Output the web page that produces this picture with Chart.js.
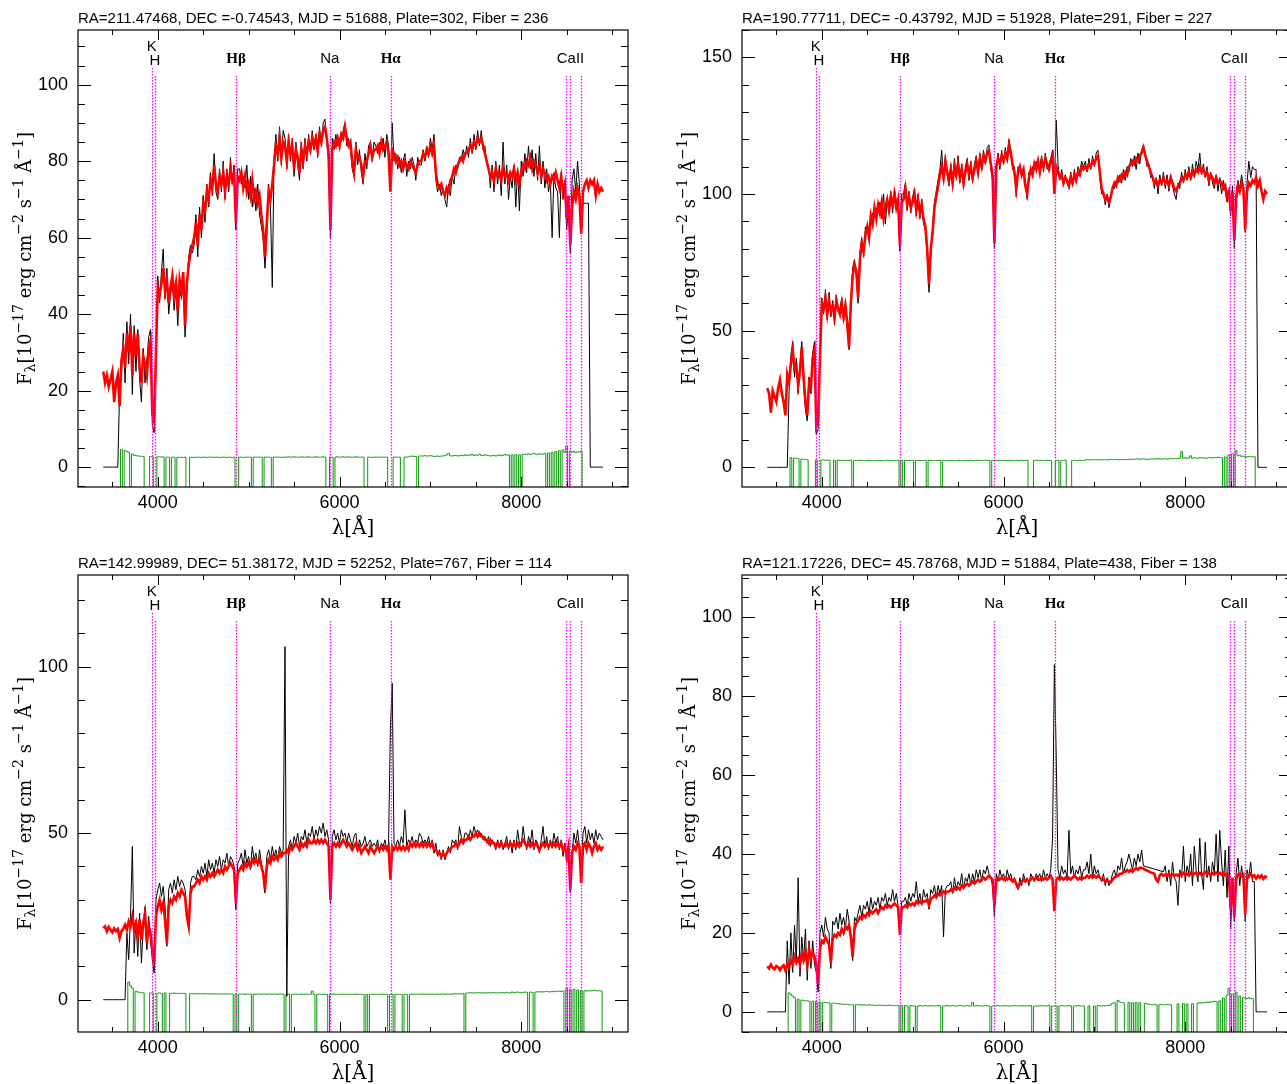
<!DOCTYPE html>
<html><head><meta charset="utf-8">
<script src="https://cdn.jsdelivr.net/npm/chart.js@4.4.1/dist/chart.umd.min.js"></script>
<style>
html,body{margin:0;padding:0;background:#fff;overflow:hidden;width:1287px;height:1084px;position:relative}
.panel{position:absolute;width:640px;height:545px}
#warn{position:absolute;left:300px;top:520px;color:red;font:14px sans-serif}
</style></head><body>
<div class="panel" style="left:0;top:0"><canvas id="c0" width="640" height="545"></canvas></div>
<div class="panel" style="left:664px;top:0"><canvas id="c1" width="640" height="545"></canvas></div>
<div class="panel" style="left:0;top:545px"><canvas id="c2" width="640" height="545"></canvas></div>
<div class="panel" style="left:664px;top:545px"><canvas id="c3" width="640" height="545"></canvas></div>
<div id="warn"></div>
<script>
// ---------- wavelength grid (Angstrom) ----------
const wave = [
3400,3420,3440,3460,3480,3500,3520,3540,3560,3580,3600,3620,3640,3660,3680,3700,3720,3740,3760,3780,3800,3820,3840,3860,3880,
3900,3920,3940,3960,3980,4000,4020,4040,4060,4080,4100,4120,4140,4160,4180,4200,4220,4240,4260,4280,4300,4320,4340,4360,4380,
4400,4420,4440,4460,4480,4500,4520,4540,4560,4580,4600,4620,4640,4660,4680,4700,4720,4740,4760,4780,4800,4820,4840,4860,4880,
4900,4920,4940,4960,4980,5000,5020,5040,5060,5080,5100,5120,5140,5160,5180,5200,5220,5240,5260,5280,5300,5320,5340,5360,5380,
5400,5420,5440,5460,5480,5500,5520,5540,5560,5580,5600,5620,5640,5660,5680,5700,5720,5740,5760,5780,5800,5820,5840,5860,5880,
5900,5920,5940,5960,5980,6000,6020,6040,6060,6080,6100,6120,6140,6160,6180,6200,6220,6240,6260,6280,6300,6320,6340,6360,6380,
6400,6420,6440,6460,6480,6500,6520,6540,6560,6580,6600,6620,6640,6660,6680,6700,6720,6740,6760,6780,6800,6820,6840,6860,6880,
6900,6920,6940,6960,6980,7000,7020,7040,7060,7080,7100,7120,7140,7160,7180,7200,7220,7240,7260,7280,7300,7320,7340,7360,7380,
7400,7420,7440,7460,7480,7500,7520,7540,7560,7580,7600,7620,7640,7660,7680,7700,7720,7740,7760,7780,7800,7820,7840,7860,7880,
7900,7920,7940,7960,7980,8000,8020,8040,8060,8080,8100,8120,8140,8160,8180,8200,8220,8240,8260,8280,8300,8320,8340,8360,8380,
8400,8420,8440,8460,8480,8500,8520,8540,8560,8580,8600,8620,8640,8660,8680,8700,8720,8740,8760,8780,8800,8820,8840,8860,8880,
8900];
const n = null;

// ---------- panel 1 (top-left) ----------
const p1Model = [
25,22,24,21,23, 25,17,22,24,16, 28,31,26,35,30, 37,24,35,29,35, 26,22,29,27,24,
31,33,14,12,30, 47,45,48,52,46, 49,43,47,50,45, 48,41,49,46,51, 37,48,53,56,58,
60,64,58,66,62, 69,67,72,70,75, 73,79,74,72,76, 74,77,72,76,74, 78,75,77,64,76,
75,77,73,76,72, 74,71,75,70,72, 69,71,66,62,55, 64,72,70,74,79, 84,82,86,81,85,
84,80,85,82,84, 78,83,81,77,83, 80,84,82,85,83, 86,84,86,83,87, 85,88,89,86,82,
62,83,85,84,86, 84,87,86,89,86, 84,85,80,77,83, 81,81,79,76,80, 80,82,84,81,83,
83,84,82,85,83, 84,85,82,72,83, 82,80,81,79,80, 78,80,79,78,80, 79,78,77,79,80,
80,82,81,83,82, 84,82,84,77,74, 73,74,72,71,73, 72,75,76,78,77, 79,80,81,80,82,
82,83,84,83,85, 84,86,85,86,84, 82,80,78,76,77, 75,78,76,77,75, 78,76,77,75,77,
76,78,75,77,74, 77,79,78,80,79, 81,78,80,79,77, 79,76,78,77,75, 76,74,76,75,77,
75,73,76,72,74, 65,71,58,68,72, 70,73,71,61,72, 74,75,73,75,74, 75,71,74,72,73,
72];
const p1Flux = [
0,0,0,0,0, 0,0,0,0,20, 24,35,22,38,27, 40,19,37,25,36, 23,17,31,22,28,
34,36,11,9,26, 50,43,51,57,44, 52,40,45,48,41, 47,37,47,44,50, 34,46,55,58,56,
58,66,55,68,60, 71,64,74,68,77, 71,82,72,70,78, 72,80,70,78,72, 81,74,79,62,78,
78,74,76,73,79, 70,76,68,73,67, 74,66,63,60,52, 61,74,68,47,81, 87,80,89,79,88,
86,78,87,80,86, 76,85,79,75,85, 78,86,80,87,82, 88,83,87,81,89, 84,90,91,85,80,
60,86,83,87,84, 86,85,88,90,84, 86,83,78,76,85, 79,83,77,74,82, 78,84,85,80,85,
84,82,85,83,86, 81,87,84,74,90, 80,82,78,81,77, 80,82,76,80,78, 81,79,75,81,79,
79,83,80,84,81, 86,83,87,75,72, 74,71,73,70,68, 74,71,76,74,79, 78,81,80,83,81,
84,81,86,82,87, 83,88,84,88,83, 84,79,79,73,79, 72,80,74,79,71, 85,74,79,70,76,
73,79,68,78,67, 80,76,82,77,84, 78,83,76,82,75, 84,74,80,73,78, 72,75,60,77,73,
72,60,77,70,75, 62,68,56,75,78, 72,80,74,61,69, 69,69,69,0,0, 0,0,0,0,0,
0];
const p1Err = [
n,n,n,n,n, n,n,n,n,-20, 4.6,-20,4.3,4.1,3.9, -20,3.4,3.1,3.0,2.9, 2.9,2.8,2.8,-20,-20,
-20,2.8,2.7,-20,-20, 2.7,2.7,2.6,2.7,-20, 2.6,2.6,-20,2.6,2.6, -20,2.6,2.5,2.6,2.5, 2.6,-20,-20,2.6,2.5,
2.6,2.5,2.6,2.6,2.5, 2.6,2.6,2.5,2.6,2.6, 2.6,2.5,2.6,2.6,2.5, 2.6,2.6,2.6,2.5,2.6, 2.6,2.5,2.6,-20,-20,
2.6,2.6,2.5,2.6,2.6, 2.6,2.6,-20,2.6,2.6, 2.6,2.6,2.6,-20,2.6, 2.6,2.6,2.6,-20,2.6, 2.6,2.6,2.6,2.5,2.6,
2.6,2.6,2.7,2.6,2.6, 2.7,2.6,2.6,2.6,2.7, 2.6,2.6,2.6,2.7,2.6, 2.6,2.6,2.7,2.6,2.6, 2.6,2.7,2.6,-20,-20,
2.6,2.6,-20,2.6,2.7, 2.6,2.6,2.7,2.6,2.6, 2.7,2.6,2.6,2.6,2.7, 2.6,2.6,2.6,2.6,-20, -20,2.6,2.6,2.5,2.6,
2.6,2.6,2.6,2.6,2.6, 2.6,2.6,-20,-20,-20, 2.6,2.6,2.6,2.6,-20, -20,2.6,2.6,2.7,2.8, 2.9,2.8,2.8,-20,2.9,
2.9,2.9,3.0,2.9,2.9, 3.0,2.9,2.8,2.8,2.9, 2.8,2.9,2.9,3.0,3.2, 3.6,3.0,2.9,3.0,3.1, 2.9,3.0,3.1,3.0,3.2,
3.0,3.2,3.1,3.3,3.0, 3.2,3.1,3.4,3.1,3.0, 3.2,3.1,3.0,2.9,3.0, 3.1,2.9,3.0,3.2,3.0, 3.1,3.3,3.1,3.2,-20,
3.2,-20,3.3,-20,3.2, -20,3.3,3.4,3.3,3.5, 3.3,3.4,3.6,3.4,3.3, 3.5,3.4,3.4,3.6,-20, 3.7,-20,3.9,-20,4.1,
-20,4.3,-20,4.5,3.8, 5.5,-20,4.2,3.9,4.1, 3.8,4.0,3.9,4.2,-20, n,n,n,n,n, n,n,n,n,n,
n];

// ---------- panel 2 (top-right) ----------
const p2Model = [
29,27,20,28,26, 24,29,32,27,24, 19,34,31,38,43, 36,37,30,35,44, 33,24,19,31,29,
40,43,15,17,40, 60,58,62,56,61, 57,59,55,61,58, 56,60,55,59,53, 44,60,70,74,72,
62,76,82,79,85, 88,84,92,89,95, 91,96,93,97,91, 95,98,94,99,96, 100,95,98,81,97,
98,102,96,99,95, 97,100,94,98,93, 96,91,88,80,67, 80,86,95,99,103, 107,110,106,112,108,
105,109,104,110,107, 111,106,109,104,108, 111,107,110,106,109, 112,108,113,110,114, 112,115,116,111,107,
82,110,113,111,114, 112,115,113,118,115, 111,108,102,108,110, 107,109,103,100,106, 109,107,111,109,112,
108,112,110,113,111, 109,112,114,100,110, 108,106,107,104,106, 105,103,106,104,107, 105,108,107,110,109,
110,109,111,110,112, 111,113,114,108,102, 100,98,99,97,99, 102,104,103,106,105, 107,106,108,107,110,
111,112,111,113,112, 114,115,117,114,112, 110,108,106,104,105, 103,105,104,106,104, 105,103,106,104,102,
101,103,104,106,105, 107,106,108,106,108, 107,109,108,110,108, 109,107,108,105,107, 106,104,106,104,105,
104,102,103,99,101, 94,101,83,98,103, 101,104,102,87,101, 104,103,105,104,106, 103,105,101,98,101,
100];
const p2Flux = [
0,0,0,0,0, 0,0,0,0,0, 0,0,28,41,46, 33,40,27,37,46, 30,21,17,33,27,
42,46,12,14,42, 62,56,65,54,64, 55,61,52,63,57, 58,62,53,61,51, 43,58,73,76,70,
60,79,84,77,88, 86,87,90,93,92, 95,94,97,91,100, 89,98,95,101,93, 102,97,96,79,100,
100,104,94,101,93, 99,102,92,100,91, 98,89,87,78,64, 78,88,97,101,105, 109,116,104,114,107,
103,111,102,113,106, 114,104,111,102,110, 113,105,112,104,111, 114,107,115,109,116, 111,117,118,109,105,
80,108,115,109,116, 111,117,112,120,116, 109,110,99,110,108, 109,107,105,98,108, 107,110,109,112,110,
110,114,108,115,109, 111,113,116,103,127, 111,105,109,103,107, 104,102,108,103,109, 104,110,108,112,110,
112,108,113,109,114, 110,115,116,106,100, 101,96,100,95,98, 103,102,105,104,107, 104,109,105,110,108,
113,110,114,109,115, 111,116,118,115,110, 111,106,107,102,106, 100,107,103,108,102, 107,101,107,103,100,
98,104,102,108,104, 109,105,110,105,111, 106,112,109,115,107, 111,106,110,103,108, 104,102,107,101,106,
100,105,101,97,100, 92,103,80,100,105, 102,107,103,86,104, 112,106,110,109,109, 0,0,0,0,0,
0];
const p2Err = [
n,n,n,n,n, n,n,n,n,n, n,n,-20,3.6,-20, 3.4,3.3,3.2,-20,3.0, 2.9,2.9,2.8,-20,-20,
-20,-20,2.7,-20,-20, 2.7,2.7,2.6,2.6,2.6, -20,-20,2.6,-20,2.6, 2.5,2.6,2.5,2.6,2.5, 2.5,2.6,-20,2.5,2.5,
2.5,2.5,2.6,2.5,2.5, 2.5,2.6,2.5,2.5,2.5, 2.5,2.6,2.5,2.5,2.5, 2.5,2.6,2.5,2.5,2.5, 2.5,2.5,2.6,-20,2.5,
-20,2.5,2.5,2.5,2.5, 2.5,-20,2.5,2.5,2.5, 2.5,2.5,2.5,-20,2.5, 2.5,2.5,2.5,2.5,2.5, 2.5,-20,2.5,2.5,2.5,
2.5,2.5,2.6,2.5,2.5, 2.6,2.5,2.5,2.5,2.6, 2.5,2.5,2.6,2.5,2.5, 2.6,2.5,2.6,2.5,2.5, 2.6,2.5,2.5,-20,2.5,
2.5,2.6,2.5,2.5,2.6, 2.5,2.6,2.5,2.5,2.6, 2.5,2.5,2.6,2.5,2.5, 2.6,2.5,2.5,2.6,-20, -20,-20,2.5,2.6,2.5,
2.5,2.6,2.5,2.5,2.6, 2.5,2.5,-20,-20,2.5, 2.6,-20,2.5,2.5,2.6, -20,-20,-20,2.5,2.6, 2.5,2.5,2.6,2.5,2.5,
2.7,2.8,2.7,2.8,2.7, 2.8,2.8,2.7,2.8,2.7, 2.8,2.8,2.7,2.8,2.9, 2.8,2.8,2.9,2.8,2.8, 2.9,2.8,2.9,2.8,2.9,
2.9,3.0,2.9,3.0,3.1, 2.9,3.0,3.1,3.0,2.9, 3.0,3.1,3.0,3.1,3.0, 3.2,3.1,3.0,3.1,3.2, 3.0,3.1,3.2,3.1,3.2,
3.3,3.2,3.4,5.8,3.3, 3.5,3.3,3.4,4.2,3.3, 3.5,3.4,3.3,3.6,3.4, 3.5,3.3,3.4,3.6,3.5, 3.4,3.6,3.5,3.7,3.6,
3.5,-20,3.8,-20,4.5, -20,5.0,-20,6.1,4.2, 4.4,4.0,4.1,3.9,3.8, 4.0,3.9,3.8,3.9,-20, n,n,n,n,n,
n];

// ---------- panel 3 (bottom-left) ----------
const p3Model = [
21.5,22,20.5,21.8,21, 20.2,21.4,20.6,21.2,18.5, 20.5,21.3,22.5,21,23.5, 22,25,21,23,19, 24,18,23,26,17,
22,20,15,11,25, 28,30,27,29,24, 17,28,30,29,31, 30,32,31,33,32, 31,25,22,32,34,
34,35,36,35,37, 36,37,36,38,37, 38,37,38,39,38, 39,38,40,39,40, 41,40,39,29,38,
39,40,39,41,40, 41,40,42,41,42, 41,42,40,38,33, 40,42,41,43,42, 43,42,44,43,44,
44,45,44,46,45, 46,47,46,45,47, 46,47,46,48,47, 47,48,47,48,47, 48,47,48,47,46,
30,46,47,46,47, 46,47,48,47,46, 47,46,45,46,47, 45,46,44,45,46, 45,44,46,45,44,
45,46,45,46,45, 46,45,46,36,46, 45,46,45,46,45, 46,45,46,45,47, 46,47,46,47,46,
47,46,47,46,47, 46,47,45,45,44, 44,43,44,43,44, 45,45,46,46,47, 46,47,48,47,48,
48,49,48,49,49, 50,49,50,49,49, 48,48,47,48,47, 47,46,47,46,47, 46,46,47,46,47,
46,47,46,47,46, 47,48,47,46,47, 46,47,46,47,46, 45,46,47,46,47, 46,47,46,47,46,
47,46,47,45,46, 43,46,33,44,46, 45,47,46,35,46, 47,45,47,46,44, 46,47,45,46,45,
46];
const p3Flux = [
0,0,0,0,0, 0,0,0,0,0, 0,0,0,20,12, 25,46,14,24,13, 26,11,22,28,15,
25,18,12,8,30, 33,35,31,34,28, 16,33,35,32,36, 33,37,34,36,35, 33,27,21,35,37,
37,36,39,37,40, 38,41,37,42,39, 41,38,42,40,43, 39,42,41,44,40, 43,42,40,27,41,
42,44,40,45,41, 43,39,46,42,44, 40,45,41,37,32, 43,45,42,46,43, 45,42,46,44,45,
106,1,46,48,45, 49,47,50,46,49, 48,51,47,50,49, 52,48,51,49,52, 50,53,49,51,48,
29,49,51,48,50, 47,51,49,50,47, 50,48,46,49,50, 45,48,46,47,49, 46,47,48,46,47,
46,48,44,47,46, 48,45,47,81,95, 47,46,48,46,49, 47,57,46,48,47, 49,46,48,47,50,
49,47,48,47,49, 46,48,44,47,43, 45,42,45,42,44, 46,44,48,47,48, 45,52,49,47,50,
50,48,51,49,52, 50,51,49,50,48, 49,47,49,46,48, 47,45,48,46,48, 45,47,49,45,48,
44,48,45,51,47, 46,52,48,45,49, 47,51,45,48,47, 44,48,52,46,49, 45,48,46,50,47,
49,45,48,43,47, 41,45,32,44,50, 47,51,46,37,50, 52,47,51,48,50, 47,51,48,50,49,
48];
const p3Err = [
n,n,n,n,n, n,n,n,n,n, n,n,n,-20,5.3, 4.2,3.5,-20,2.5,2.3, 2.2,2.1,2.1,-20,-20,
-20,2.0,2.0,-20,-20, 2.0,2.0,1.9,-20,2.0, -20,-20,1.9,1.9,2.0, 1.9,1.9,1.9,1.8,1.9, 1.8,-20,-20,1.8,1.8,
1.8,1.8,1.7,1.8,1.8, 1.7,1.8,1.8,1.7,1.8, 1.7,1.8,1.7,1.7,1.8, 1.7,1.7,1.7,1.8,1.7, 1.7,1.7,-20,1.7,-20,
1.7,1.7,1.7,1.6,1.7, 1.7,1.7,-20,1.7,1.6, 1.7,1.7,1.6,1.7,1.7, 1.6,1.7,1.7,1.6,1.7, 1.7,1.6,1.7,1.7,1.6,
-20,1.6,1.7,-20,1.6, 1.6,1.7,1.6,1.6,1.7, 1.6,1.6,1.7,1.6,1.6, 2.6,1.6,-20,1.6,1.7, 1.6,1.6,1.7,1.6,-20,
1.6,1.6,1.7,1.6,1.6, 1.6,1.7,1.6,1.6,1.6, 1.7,1.6,1.6,1.6,1.7, 1.6,1.6,1.6,1.6,-20, 1.6,-20,1.6,1.6,1.6,
1.6,1.6,1.6,1.7,1.6, 1.6,1.6,-20,1.6,1.6, -20,1.6,1.6,1.6,1.6, -20,1.6,1.6,-20,1.6, 1.7,1.6,1.6,1.6,1.7,
1.6,1.7,1.6,1.6,1.7, 1.6,1.7,1.6,1.6,1.7, 1.6,1.7,1.7,1.6,1.7, 1.7,1.6,1.7,1.7,1.8, 1.7,1.8,1.7,1.8,-20,
2.0,2.0,2.1,2.0,2.0, 2.1,2.0,2.1,2.0,2.0, 2.1,2.0,2.1,2.0,2.1, 2.1,2.0,2.1,2.0,2.1, 2.1,2.0,2.2,2.1,2.0,
2.3,2.1,2.2,2.3,2.2, 2.1,2.2,2.3,2.2,-20, 2.3,2.2,-20,2.3,2.4, 2.3,2.4,2.3,2.4,2.5, 2.4,2.3,2.5,2.4,2.5,
2.5,2.6,2.5,2.6,-20, 3.5,-20,3.0,-20,3.1, -20,2.9,-20,2.8,-20, 2.7,2.6,2.7,2.6,2.7, 2.8,2.7,2.6,2.7,2.6,
-20];

// ---------- panel 4 (bottom-right) ----------
const p4Model = [
11.5,11,12,11.2,10.8, 11.6,11.3,10.6,11.4,11.8, 10.5,12,11.2,13,12, 14,12.5,13.5,12,14.5, 13,15,12,16,13.5,
15,14,12,7,16, 18,17.5,19,18,17, 12.5,18.5,19.5,19,20, 19.5,21,20,21.5,21, 22,19,14,21,22.5,
23,24,23.5,24.5,24, 25,24.5,25.5,25,25.5, 26,25,26,26.5,26, 27,26.5,27,26.5,27, 27.5,27,26.5,19.5,26.5,
26.5,27,26.5,27.5,27, 27.5,27,28,27.5,28, 27.5,28,28,28.5,27, 28.5,29,29.5,29,30, 29.5,30,30.5,30,30.5,
30.5,31,30.5,31.5,31, 31.5,31,32,31.5,32, 32.5,32,32.5,33,32.5, 33,33.5,33,33.5,34, 33.5,34,34.5,34,33.5,
27,33.5,34,33.5,34, 33.5,34,33.5,34,33.5, 33,33.5,32.5,31.5,32.5, 33,33.5,33,33.5,33, 33.5,34,33.5,34,33.5,
33.5,34,33.5,34,33.5, 34,34.5,33.5,25.5,33.5, 34,33.5,34,33.5,34, 33.5,34,33.5,34,34.5, 34,33.5,34,33.5,34,
34,34.5,34,34.5,34, 34.5,34,34.5,34,33.5, 33.5,33,33.5,33,32.8, 33.5,34,34.5,34.5,35, 35,35.5,35.5,36,35.5,
36,35.5,36,36.5,36, 36.5,36.5,36.3,36,35.8, 35.6,35.3,35.2,35,33.5, 33,34.6,35,34.5,34.8, 34.5,35,34.4,34.8,34.5,
34.8,34.5,35,34.6,35.2, 34.8,35,34.5,35.2,34.8, 35,35.3,34.8,35.2,34.6, 35,35.4,34.9,35.2,34.7, 35.1,34.8,35.3,34.9,35.2,
34.8,35.2,34.6,35,34.5, 26,34,24,33.5,34.8, 35,34.4,34.8,24.7,33.5, 34.5,35,34.2,34.6,33.8, 34.5,34,34.6,33.7,34.3,
34];
const p4Flux = [
0,0,0,0,0, 0,0,0,0,0, 0,18,7,20,10, 22,12,34,9,19, 13,21,8,18,11,
18,12,10,5,20, 22,19,24,21,20, 11,23,22,24,21, 25,22,24,21,26, 23,18,13,24,23,
25,27,24,27,26, 28,25,29,26,28, 27,29,26,29,28, 30,27,29,28,31, 28,30,27,20,28,
28,29,27,30,28, 30,29,33,28,30, 27,31,29,30,26, 31,30,32,29,32, 30,32,19,31,32,
32,33,30,34,31, 33,32,35,31,34, 33,35,32,35,33, 36,34,36,33,36, 35,37,35,34,32,
24,35,33,36,34, 35,33,36,34,35, 33,34,32,31,34, 32,35,33,34,32, 35,34,33,35,34,
35,33,36,34,35, 34,36,44,88,65, 36,34,37,35,36, 34,46,35,37,34, 36,35,37,34,36,
36,38,35,40,34, 37,35,36,34,33, 35,32,34,32,33, 35,36,34,37,36, 39,35,37,38,40,
38,36,39,37,40, 38,41,37,n,n, n,n,n,n,n, n,n,n,35.5,37, 33,36,32,38,34,
33,27,36,34,42, 33,37,35,40,32, 42,36,33,44,35, 31,43,34,37,33, 38,35,45,33,46,
38,32,41,29,42, 21,33,23,35,39, 32,37,33,23,36, 34,38,33,33,0, 0,0,0,0,0,
0];
const p4Err = [
n,n,n,n,n, n,n,n,n,n, n,-20,4.8,4.4,4.0, 3.6,-20,3.2,-20,3.0, 2.9,2.8,2.8,2.7,-20,
2.7,-20,2.6,-20,2.5, -20,2.4,2.4,2.3,2.3, -20,2.2,2.2,2.1,2.1, 2.0,2.0,1.9,1.9,1.9, 1.8,1.8,1.8,-20,1.8,
1.8,1.8,1.7,1.8,1.7, 1.7,1.8,1.7,1.7,1.7, 1.6,1.7,1.7,1.6,1.7, 1.6,1.6,1.7,1.6,1.6, 1.6,1.6,1.6,-20,1.6,
-20,1.6,1.5,-20,1.6, 1.5,1.5,-20,1.5,1.6, 1.5,1.5,1.6,1.5,1.5, 1.6,1.5,1.5,1.5,1.6, 1.5,-20,1.5,1.5,1.6,
1.5,1.5,1.6,1.5,1.5, 1.5,1.6,1.5,1.5,1.5, 1.6,1.5,1.5,2.4,1.5, 1.5,1.6,1.5,1.5,1.5, 1.6,1.5,1.5,-20,1.5,
1.5,1.5,1.6,1.5,1.5, 1.5,1.6,1.5,1.5,1.5, 1.5,1.6,1.5,1.5,1.5, 1.6,1.5,1.5,1.5,1.5, 1.6,-20,1.5,1.5,1.5,
1.5,1.6,1.5,1.5,1.5, 1.6,-20,1.5,1.5,1.5, -20,1.5,1.6,1.5,1.5, 1.5,1.6,1.5,-20,1.5, 1.5,1.6,1.5,1.5,1.5,
-20,-20,1.5,-20,-20, 1.5,-20,1.6,1.5,1.5, 1.6,1.5,1.6,1.6,1.8, 2.2,2.3,-20,2.9,2.5, 2.4,2.3,-20,-20,2.4,
-20,2.3,-20,2.4,-20, 2.3,-20,-20,2.2,2.0, 1.9,1.9,1.8,1.9,1.8, -20,1.8,1.9,1.8,1.8, 1.9,1.8,1.8,-20,-20,
-20,2.0,-20,-20,2.1, -20,2.0,-20,-20,2.1, -20,-20,2.2,2.3,2.2, 2.4,2.3,2.5,2.4,2.6, 2.5,2.7,2.6,-20,2.8,
-20,3.5,-20,4.2,6.0, -20,4.5,-20,5.0,-20, 4.0,-20,3.6,3.5,3.4, 3.6,3.3,3.4,-20,n, n,n,n,n,n,
n];

// ---------- axes, ticks, annotations ----------
const titles = [
  'RA=211.47468, DEC =-0.74543, MJD = 51688, Plate=302, Fiber = 236',
  'RA=190.77711, DEC= -0.43792, MJD = 51928, Plate=291, Fiber = 227',
  'RA=142.99989, DEC= 51.38172, MJD = 52252, Plate=767, Fiber = 114',
  'RA=121.17226, DEC= 45.78768, MJD = 51884, Plate=438, Fiber = 138'
];
const xTickLabels = [4000, 6000, 8000];
const yTicksA = [0, 20, 40, 60, 80, 100];
const yTicksB = [0, 50, 100, 150];
const yTicksC = [0, 50, 100];
const lineWaves = [3934, 3969, 4861, 5893, 6563, 8498, 8542, 8662];
const lineLabels = ['K', 'H', 'Hβ', 'Na', 'Hα', 'CaII'];
const lineLabelWaves = [3934, 3969, 4861, 5893, 6563, 8542];
const xTitle = 'λ[Å]';

const panels = [
  {id: 'c0', title: titles[0], model: p1Model, flux: p1Flux, err: p1Err, yMin: -5.2, yMax: 114.3, yTicks: yTicksA, yMinor: 5},
  {id: 'c1', title: titles[1], model: p2Model, flux: p2Flux, err: p2Err, yMin: -7.2, yMax: 160, yTicks: yTicksB, yMinor: 10},
  {id: 'c2', title: titles[2], model: p3Model, flux: p3Flux, err: p3Err, yMin: -9.7, yMax: 127.5, yTicks: yTicksC, yMinor: 10},
  {id: 'c3', title: titles[3], model: p4Model, flux: p4Flux, err: p4Err, yMin: -5.1, yMax: 110.7, yTicks: yTicksA, yMinor: 5}
];
const panelById = {};
panels.forEach(p => panelById[p.id] = p);

// length sanity check
const bad = [];
panels.forEach(p => ['model', 'flux', 'err'].forEach(k => { if (p[k].length !== wave.length) bad.push(p.id + '.' + k + '=' + p[k].length); }));
if (bad.length) document.getElementById('warn').textContent = 'LENGTH MISMATCH: ' + bad.join(' ');

const SANS = '"Liberation Sans", Arial, Helvetica, sans-serif';
const SERIF = '"DejaVu Serif", "Liberation Serif", serif';
Chart.defaults.font.family = SANS;
Chart.defaults.color = '#000';

function drawYTitle(ctx, cx, cy) {
  const big = 18, small = 14;
  const parts = [['F', big, 0], ['λ', small, 5], ['[10', big, 0], ['−17', small, -7], [' erg cm', big, 0],
                 ['−2', small, -7], [' s', big, 0], ['−1', small, -7], [' Å', big, 0], ['−1', small, -7], [']', big, 0]];
  ctx.save();
  ctx.translate(cx, cy);
  ctx.rotate(-Math.PI / 2);
  let total = 0;
  parts.forEach(p => { ctx.font = p[1] + 'px ' + SERIF; p.w = ctx.measureText(p[0]).width; total += p.w; });
  let x = -total / 2;
  ctx.textBaseline = 'middle'; ctx.textAlign = 'left'; ctx.fillStyle = '#000';
  parts.forEach(p => { ctx.font = p[1] + 'px ' + SERIF; ctx.fillText(p[0], x, p[2]); x += p.w; });
  ctx.restore();
}

const framePlugin = {
  id: 'frame',
  afterDatasetsDraw(chart) {
    const ctx = chart.ctx, xs = chart.scales.x;
    const {top, bottom} = chart.chartArea;
    ctx.save();
    ctx.strokeStyle = '#ff00ff';
    ctx.lineWidth = 1.3;
    ctx.setLineDash([1.5, 1.5]);
    lineWaves.forEach((w, i) => {
      const px = Math.round(xs.getPixelForValue(w)) + 0.5;
      ctx.beginPath();
      ctx.moveTo(px, top + (i === 0 ? 38 : 46));
      ctx.lineTo(px, bottom);
      ctx.stroke();
    });
    ctx.setLineDash([]);
    ctx.fillStyle = '#000';
    ctx.textAlign = 'center';
    ctx.textBaseline = 'middle';
    lineLabels.forEach((t, i) => {
      const serif = (t === 'Hβ' || t === 'Hα');
      ctx.font = serif ? 'bold 15px "Liberation Serif", serif' : '15px ' + SANS;
      const dy = t === 'K' ? 17 : (t === 'H' ? 31 : 29);
      ctx.fillText(t, xs.getPixelForValue(lineLabelWaves[i]), top + dy);
    });
    ctx.restore();
  },
  afterDraw(chart) {
    const P = panelById[chart.canvas.id];
    const ctx = chart.ctx, xs = chart.scales.x, ys = chart.scales.y;
    const {left, right, top, bottom} = chart.chartArea;
    ctx.save();
    ctx.strokeStyle = '#000';
    ctx.lineWidth = 1.2;
    ctx.strokeRect(left, top, right - left, bottom - top);
    ctx.lineWidth = 1;
    ctx.beginPath();
    for (let k = Math.ceil(xs.min / 500); k * 500 <= xs.max; k++) {
      const v = k * 500;
      const px = Math.round(xs.getPixelForValue(v)) + 0.5;
      const len = xTickLabels.includes(v) ? 10 : 5;
      ctx.moveTo(px, bottom); ctx.lineTo(px, bottom - len);
      ctx.moveTo(px, top); ctx.lineTo(px, top + len);
    }
    for (let k = Math.ceil(ys.min / P.yMinor); k * P.yMinor <= ys.max; k++) {
      const v = k * P.yMinor;
      const py = Math.round(ys.getPixelForValue(v)) + 0.5;
      const len = P.yTicks.includes(v) ? 13 : 7;
      ctx.moveTo(left, py); ctx.lineTo(left + len, py);
      ctx.moveTo(right, py); ctx.lineTo(right - len, py);
    }
    ctx.stroke();
    // title
    ctx.fillStyle = '#000';
    ctx.font = '15px ' + SANS;
    ctx.textAlign = 'left';
    ctx.textBaseline = 'alphabetic';
    ctx.fillText(P.title, left, top - 7);
    // x title
    ctx.font = '20px ' + SERIF;
    ctx.textAlign = 'center';
    ctx.textBaseline = 'middle';
    ctx.fillText(xTitle, (left + right) / 2, bottom + 42);
    ctx.restore();
    drawYTitle(ctx, left - 52, (top + bottom) / 2);
  }
};

function pairs(arr) { return wave.map((w, i) => ({x: w, y: arr[i]})); }

panels.forEach(P => {
  new Chart(document.getElementById(P.id), {
    type: 'line',
    data: {
      datasets: [
        {data: pairs(P.model), borderColor: '#ff0000', borderWidth: 2.6, pointRadius: 0, tension: 0},
        {data: pairs(P.flux), borderColor: '#000000', borderWidth: 1, pointRadius: 0, tension: 0, spanGaps: true},
        {data: pairs(P.err), borderColor: '#089a08', borderWidth: 1, pointRadius: 0, stepped: 'middle'}
      ]
    },
    options: {
      responsive: false,
      animation: false,
      events: [],
      layout: {padding: {left: 0, top: 30, right: 12, bottom: 0}},
      plugins: {legend: {display: false}, tooltip: {enabled: false}},
      scales: {
        x: {
          type: 'linear', min: 3122, max: 9175,
          afterFit: s => { s.height = 58; },
          afterBuildTicks: s => { s.ticks = xTickLabels.map(v => ({value: v})); },
          grid: {display: false, drawTicks: false},
          border: {display: false},
          ticks: {padding: 5, autoSkip: false, maxRotation: 0, color: '#000', font: {size: 18, family: SANS}, callback: v => String(v)}
        },
        y: {
          type: 'linear', min: P.yMin, max: P.yMax,
          afterFit: s => { s.width = 78; },
          afterBuildTicks: s => { s.ticks = P.yTicks.map(v => ({value: v})); },
          grid: {display: false, drawTicks: false},
          border: {display: false},
          ticks: {padding: 10, autoSkip: false, color: '#000', font: {size: 18, family: SANS}, callback: v => String(v)}
        }
      }
    },
    plugins: [framePlugin]
  });
});
</script>
</body></html>
